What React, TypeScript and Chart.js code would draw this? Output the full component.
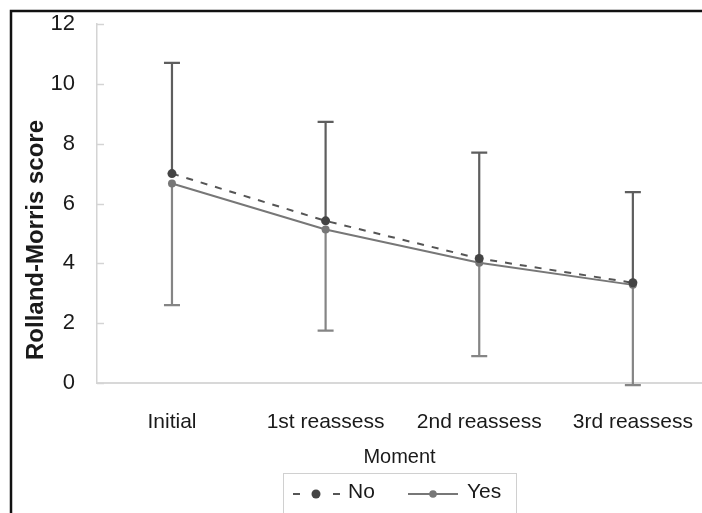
import React, { useEffect, useRef } from 'react';
import { Chart, registerables } from 'chart.js';

Chart.register(...registerables);

const categories = ['Initial', '1st reassess', '2nd reassess', '3rd reassess'];
const noMean = [7.0, 5.42, 4.16, 3.35];
const noUpper = [10.7, 8.73, 7.7, 6.38];
const yesMean = [6.67, 5.13, 4.02, 3.28];
const yesLower = [2.6, 1.75, 0.9, -0.07];
const yTicks = [0, 2, 4, 6, 8, 10, 12];

const FONT = "'Liberation Sans', Arial, sans-serif";
const TEXT = '#1a1a1a';

const zeroPad = (s: any) => {
  s.paddingLeft = 0;
  s.paddingRight = 0;
  s.paddingTop = 0;
  s.paddingBottom = 0;
};

const decor = {
  id: 'decor',
  beforeDatasetsDraw(chart: any) {
    const { ctx, scales } = chart;
    const x = scales.x;
    const y = scales.y;
    ctx.save();
    ctx.strokeStyle = '#d4d4d4';
    ctx.lineWidth = 1.5;
    yTicks.forEach((v) => {
      const py = Math.round(y.getPixelForValue(v)) + 0.5;
      ctx.beginPath();
      ctx.moveTo(x.left, py);
      ctx.lineTo(x.left + 7, py);
      ctx.stroke();
    });
    const cap = 8;
    const bar = (i: number, from: number, to: number, color: string) => {
      const px = x.getPixelForValue(i);
      const p1 = y.getPixelForValue(from);
      const p2 = y.getPixelForValue(to);
      ctx.strokeStyle = color;
      ctx.lineWidth = 2.2;
      ctx.beginPath();
      ctx.moveTo(px, p1);
      ctx.lineTo(px, p2);
      ctx.moveTo(px - cap, p2);
      ctx.lineTo(px + cap, p2);
      ctx.stroke();
    };
    categories.forEach((_, i) => {
      bar(i, yesMean[i], yesLower[i], '#858585');
      bar(i, noMean[i], noUpper[i], '#5e5e5e');
    });
    ctx.restore();
  },
  afterDraw(chart: any) {
    const { ctx } = chart;
    ctx.save();
    // frame
    ctx.strokeStyle = '#111';
    ctx.lineWidth = 2.5;
    ctx.beginPath();
    ctx.moveTo(11, 513);
    ctx.lineTo(11, 11);
    ctx.lineTo(702, 11);
    ctx.stroke();
    // y title
    ctx.fillStyle = TEXT;
    ctx.font = `bold 24px ${FONT}`;
    ctx.textAlign = 'center';
    ctx.textBaseline = 'middle';
    ctx.translate(36, 240);
    ctx.rotate(-Math.PI / 2);
    ctx.fillText('Rolland-Morris score', 0, 0);
    ctx.restore();

    // legend
    ctx.save();
    ctx.strokeStyle = '#d0d0d0';
    ctx.lineWidth = 1;
    ctx.strokeRect(283.5, 473.5, 233, 50);
    const ly = 494;
    ctx.strokeStyle = '#555';
    ctx.lineWidth = 2;
    ctx.beginPath();
    ctx.moveTo(293, ly);
    ctx.lineTo(300, ly);
    ctx.moveTo(333, ly);
    ctx.lineTo(340, ly);
    ctx.stroke();
    ctx.fillStyle = '#444';
    ctx.beginPath();
    ctx.arc(316, ly, 4.5, 0, Math.PI * 2);
    ctx.fill();
    ctx.strokeStyle = '#777';
    ctx.beginPath();
    ctx.moveTo(408, ly);
    ctx.lineTo(458, ly);
    ctx.stroke();
    ctx.fillStyle = '#777';
    ctx.beginPath();
    ctx.arc(433, ly, 3.8, 0, Math.PI * 2);
    ctx.fill();
    ctx.fillStyle = TEXT;
    ctx.font = `21px ${FONT}`;
    ctx.textAlign = 'left';
    ctx.textBaseline = 'middle';
    ctx.fillText('No', 348, 492);
    ctx.fillText('Yes', 467, 492);
    ctx.restore();
  },
};

export default function App() {
  const ref = useRef<HTMLCanvasElement | null>(null);
  useEffect(() => {
    document.body.style.margin = '0';
    const canvas = ref.current;
    if (!canvas) return;
    const chart = new Chart(canvas, {
      type: 'line',
      data: {
        datasets: [
          {
            label: 'No',
            data: noMean.map((v, i) => ({ x: i, y: v })),
            borderColor: '#555',
            borderDash: [7, 8],
            borderWidth: 2,
            pointRadius: 4.5,
            pointBackgroundColor: '#444',
            pointBorderColor: '#444',
            pointBorderWidth: 0,
          },
          {
            label: 'Yes',
            data: yesMean.map((v, i) => ({ x: i, y: v })),
            borderColor: '#777',
            borderWidth: 2,
            pointRadius: 4,
            pointBackgroundColor: '#777',
            pointBorderColor: '#777',
            pointBorderWidth: 0,
          },
        ],
      },
      options: {
        responsive: false,
        animation: false,
        layout: { autoPadding: false, padding: { top: 24, left: 0, right: 0, bottom: 0 } },
        plugins: { legend: { display: false }, tooltip: { enabled: false } },
        scales: {
          x: {
            type: 'linear',
            min: -0.488,
            max: 3.45,
            afterBuildTicks: (s: any) => {
              s.ticks = categories.map((_, i) => ({ value: i }));
            },
            afterFit: (s: any) => {
              s.height = 130;
              zeroPad(s);
            },
            grid: { display: true, drawOnChartArea: false, drawTicks: false },
            border: { display: true, color: '#d8d8d8', width: 2 },
            ticks: {
              padding: 27,
              maxRotation: 0,
              autoSkip: false,
              color: TEXT,
              font: { family: FONT, size: 21 },
              callback: (v: any) => categories[v] ?? '',
            },
            title: {
              display: true,
              text: 'Moment',
              color: TEXT,
              font: { family: FONT, size: 20 },
              padding: { top: 0, bottom: 44 },
            },
          },
          y: {
            min: 0,
            max: 12,
            afterBuildTicks: (s: any) => {
              s.ticks = yTicks.map((v) => ({ value: v }));
            },
            afterFit: (s: any) => {
              s.width = 97;
              zeroPad(s);
            },
            grid: { display: true, drawOnChartArea: false, drawTicks: false },
            border: { display: true, color: '#d4d4d4', width: 1.5 },
            ticks: {
              padding: 22,
              color: TEXT,
              font: { family: FONT, size: 22 },
            },
          },
        },
      },
      plugins: [decor],
    });
    return () => chart.destroy();
  }, []);
  return (
    <div style={{ position: 'fixed', left: 0, top: 0, width: 702, height: 513, background: '#fff' }}>
      <canvas ref={ref} width={702} height={513} style={{ display: 'block' }} />
    </div>
  );
}
